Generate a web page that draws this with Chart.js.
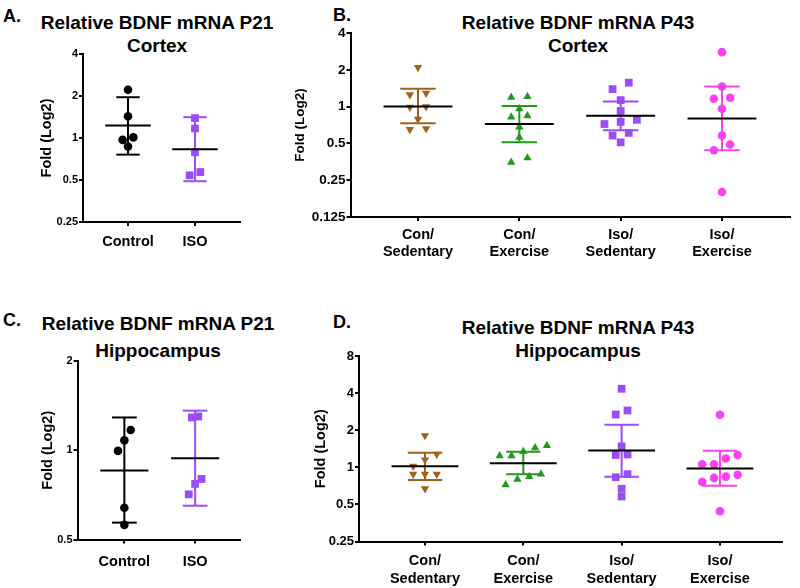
<!DOCTYPE html>
<html lang="en">
<head>
<meta charset="UTF-8">
<title>Relative BDNF mRNA</title>
<script src="https://cdn.jsdelivr.net/npm/chart.js"></script>
<style>
  body { margin: 0; background: #fff; width: 800px; height: 588px; position: relative; overflow: hidden; font-family: "Liberation Sans", Arial, sans-serif; }
  canvas { position: absolute; }
  .lbl { position: absolute; font-weight: bold; font-size: 18px; line-height: 18px; color: #000; }
  .ttl { position: absolute; font-weight: bold; font-size: 19px; text-align: center; color: #000; width: 300px; white-space: nowrap; }
</style>
</head>
<body>
<div class="lbl" style="left:3px;top:6.6px">A.</div>
<div class="lbl" style="left:333px;top:5.6px">B.</div>
<div class="lbl" style="left:3px;top:310.6px">C.</div>
<div class="lbl" style="left:333px;top:312.6px">D.</div>

<div class="ttl" style="left:7px;top:10.5px;line-height:23px">Relative BDNF mRNA P21<br>Cortex</div>
<div class="ttl" style="left:428px;top:10.5px;line-height:23px">Relative BDNF mRNA P43<br>Cortex</div>
<div class="ttl" style="left:8px;top:309.5px;line-height:27px">Relative BDNF mRNA P21<br>Hippocampus</div>
<div class="ttl" style="left:428px;top:315.5px;line-height:23px">Relative BDNF mRNA P43<br>Hippocampus</div>

<canvas id="chartA" width="270" height="290" style="left:0;top:0"></canvas>
<canvas id="chartB" width="530" height="290" style="left:270px;top:0"></canvas>
<canvas id="chartC" width="270" height="298" style="left:0;top:290px"></canvas>
<canvas id="chartD" width="530" height="298" style="left:270px;top:290px"></canvas>

<script>
// categories
const groupsP21 = ['Control', 'ISO'];
const groupsP43 = [['Con/', 'Sedentary'], ['Con/', 'Exercise'], ['Iso/', 'Sedentary'], ['Iso/', 'Exercise']];

// A: P21 cortex
const aControl = [2.22, 1.43, 1.01, 0.97, 0.87];
const aIso = [1.39, 1.17, 0.79, 0.57, 0.54];
const aMean = [1.23, 0.83];
const aSdHigh = [1.96, 1.41];
const aSdLow = [0.76, 0.49];
const ticksA = [0.25, 0.5, 1, 2, 4];

// B: P43 cortex
const bConSed = [2.09, 1.29, 1.25, 1.0, 0.99, 0.79, 0.66, 0.65];
const bConEx = [1.21, 1.19, 0.96, 0.84, 0.82, 0.68, 0.56, 0.38, 0.35];
const bIsoSed = [1.57, 1.39, 1.13, 0.92, 0.78, 0.75, 0.72, 0.61, 0.58, 0.51];
const bIsoEx = [2.79, 1.46, 1.18, 1.16, 0.96, 0.58, 0.49, 0.44, 0.20];
const bMean = [1.0, 0.72, 0.84, 0.80];
const bSdHigh = [1.40, 1.01, 1.10, 1.46];
const bSdLow = [0.73, 0.51, 0.64, 0.44];
const ticksB = [0.125, 0.25, 0.5, 1, 2, 4];

// C: P21 hippocampus
const cControl = [1.17, 1.08, 0.995, 0.64, 0.56];
const cIso = [1.30, 1.29, 0.80, 0.77, 0.71];
const cMean = [0.855, 0.94];
const cSdHigh = [1.29, 1.36];
const cSdLow = [0.57, 0.65];
const ticksC = [0.5, 1, 2];

// D: P43 hippocampus
const dConSed = [1.81, 1.28, 1.15, 1.02, 0.88, 0.88, 0.88, 0.67];
const dConEx = [1.50, 1.44, 1.34, 1.24, 1.24, 0.88, 0.84, 0.80, 0.72];
const dIsoSed = [4.34, 2.89, 2.68, 1.48, 1.27, 1.26, 0.88, 0.83, 0.67, 0.58];
const dIsoEx = [2.67, 1.26, 1.18, 1.06, 1.06, 0.87, 0.84, 0.82, 0.76, 0.44];
const dMean = [1.02, 1.08, 1.37, 0.98];
const dSdHigh = [1.31, 1.34, 2.21, 1.36];
const dSdLow = [0.79, 0.88, 0.84, 0.71];
const ticksD = [0.25, 0.5, 1, 2, 4, 8];

const BROWN = '#A0601E', GREEN = '#1E9B1E', PURPLE = '#9B4DF5', PINK = '#FA41EF';

Chart.defaults.font.family = '"Liberation Sans", Arial, sans-serif';
Chart.defaults.font.weight = 'bold';
Chart.defaults.color = '#000';

// points with nearly equal values are put side by side in a centred row
function rowOffsets(vals, thr, step) {
  const order = vals.map((v, i) => i).sort((a, b) => vals[b] - vals[a]);
  const off = new Array(vals.length).fill(0);
  let row = [];
  const flush = () => {
    row.sort((a, b) => vals[a] - vals[b]);
    row.forEach((k, j) => { off[k] = (j - (row.length - 1) / 2) * step; });
    row = [];
  };
  order.forEach(i => {
    if (row.length && Math.log2(vals[row[row.length - 1]]) - Math.log2(vals[i]) > thr) flush();
    row.push(i);
  });
  flush();
  return off;
}

function buildPanel(id, p) {
  const datasets = [];
  const seg = (pts, color, order) => datasets.push({
    data: pts, showLine: true, borderColor: color, borderWidth: 2,
    pointRadius: 0, fill: false, order: order, clip: false
  });
  p.series.forEach((s, g) => {
    const off = rowOffsets(s.vals, p.thr, p.step);
    datasets.push({
      data: s.vals.map((v, i) => ({ x: g + off[i], y: v })),
      pointStyle: s.shape, rotation: s.rot || 0, pointRadius: s.r,
      backgroundColor: s.color, borderColor: s.color, borderWidth: 0,
      order: 2, clip: false
    });
    seg([{ x: g, y: p.hi[g] }, { x: g, y: p.lo[g] }], s.color, 1);
    seg([{ x: g - 0.175, y: p.hi[g] }, { x: g + 0.175, y: p.hi[g] }], s.color, 1);
    seg([{ x: g - 0.175, y: p.lo[g] }, { x: g + 0.175, y: p.lo[g] }], s.color, 1);
    seg([{ x: g - 0.34, y: p.mean[g] }, { x: g + 0.34, y: p.mean[g] }], '#000', 0);
  });

  new Chart(document.getElementById(id), {
    type: 'scatter',
    data: { datasets },
    options: {
      responsive: false,
      animation: false,
      devicePixelRatio: 1,
      layout: { padding: { left: 0, top: p.top, right: p.right, bottom: 0 } },
      plugins: { legend: { display: false }, tooltip: { enabled: false } },
      scales: {
        x: {
          type: 'linear', min: p.xmin, max: p.xmax,
          afterFit: s => { s.height = p.xh; },
          afterBuildTicks: s => { s.ticks = p.groups.map((_, i) => ({ value: i })); },
          ticks: {
            autoSkip: false, maxRotation: 0, padding: p.xpad,
            font: { size: 14.5, weight: 'bold', lineHeight: p.xlh },
            callback: v => p.groups[v]
          },
          grid: { drawOnChartArea: false, drawTicks: true, tickLength: 4, color: '#000', lineWidth: 2 },
          border: { display: true, color: '#000', width: 2 }
        },
        y: {
          type: 'logarithmic', min: p.ticks[0], max: p.ticks[p.ticks.length - 1],
          afterFit: s => { s.width = p.yw; },
          afterBuildTicks: s => { s.ticks = p.ticks.map(v => ({ value: v })); },
          ticks: { padding: 1, font: { size: p.tickSize, weight: 'bold' }, callback: v => String(v) },
          grid: { drawOnChartArea: false, drawTicks: true, tickLength: 4, color: '#000', lineWidth: 2 },
          border: { display: true, color: '#000', width: 2 },
          title: {
            display: true, text: 'Fold (Log2)',
            font: { size: p.titleSize, weight: 'bold' },
            padding: { top: p.titlePad, bottom: 0 }
          }
        }
      }
    }
  });
}

buildPanel('chartA', {
  groups: groupsP21, ticks: ticksA, mean: aMean, hi: aSdHigh, lo: aSdLow,
  series: [
    { vals: aControl, color: '#000', shape: 'circle', r: 4.3 },
    { vals: aIso, color: PURPLE, shape: 'rect', r: 5.5 }
  ],
  thr: 0.15, step: 0.16,
  xmin: -0.672, xmax: 1.672, top: 54, right: 30, yw: 83, xh: 68,
  xpad: 7, xlh: 1.2, tickSize: 11, titleSize: 14.5, titlePad: 38.3
});

buildPanel('chartB', {
  groups: groupsP43, ticks: ticksB, mean: bMean, hi: bSdHigh, lo: bSdLow,
  series: [
    { vals: bConSed, color: BROWN, shape: 'triangle', rot: 180, r: 4.8 },
    { vals: bConEx, color: GREEN, shape: 'triangle', r: 4.8 },
    { vals: bIsoSed, color: PURPLE, shape: 'rect', r: 5.5 },
    { vals: bIsoEx, color: PINK, shape: 'circle', r: 4.3 }
  ],
  thr: 0.18, step: 0.16,
  xmin: -0.666, xmax: 3.671, top: 33, right: 10, yw: 80.5, xh: 73,
  xpad: 5.5, xlh: 1.17, tickSize: 13.5, titleSize: 13.5, titlePad: 22
});

buildPanel('chartC', {
  groups: groupsP21, ticks: ticksC, mean: cMean, hi: cSdHigh, lo: cSdLow,
  series: [
    { vals: cControl, color: '#000', shape: 'circle', r: 4.3 },
    { vals: cIso, color: PURPLE, shape: 'rect', r: 5.5 }
  ],
  thr: 0.12, step: 0.09,
  xmin: -0.662, xmax: 1.634, top: 71, right: 30, yw: 77.5, xh: 48.5,
  xpad: 10, xlh: 1.2, tickSize: 11, titleSize: 14.5, titlePad: 39.3
});

buildPanel('chartD', {
  groups: groupsP43, ticks: ticksD, mean: dMean, hi: dSdHigh, lo: dSdLow,
  series: [
    { vals: dConSed, color: BROWN, shape: 'triangle', rot: 180, r: 4.8 },
    { vals: dConEx, color: GREEN, shape: 'triangle', r: 4.8 },
    { vals: dIsoSed, color: PURPLE, shape: 'rect', r: 5.5 },
    { vals: dIsoEx, color: PINK, shape: 'circle', r: 4.3 }
  ],
  thr: 0.2, step: 0.12,
  xmin: -0.671, xmax: 3.631, top: 66, right: 18, yw: 89, xh: 46.5,
  xpad: 6.5, xlh: 1.24, tickSize: 13, titleSize: 14.5, titlePad: 42.3
});
</script>
</body>
</html>
